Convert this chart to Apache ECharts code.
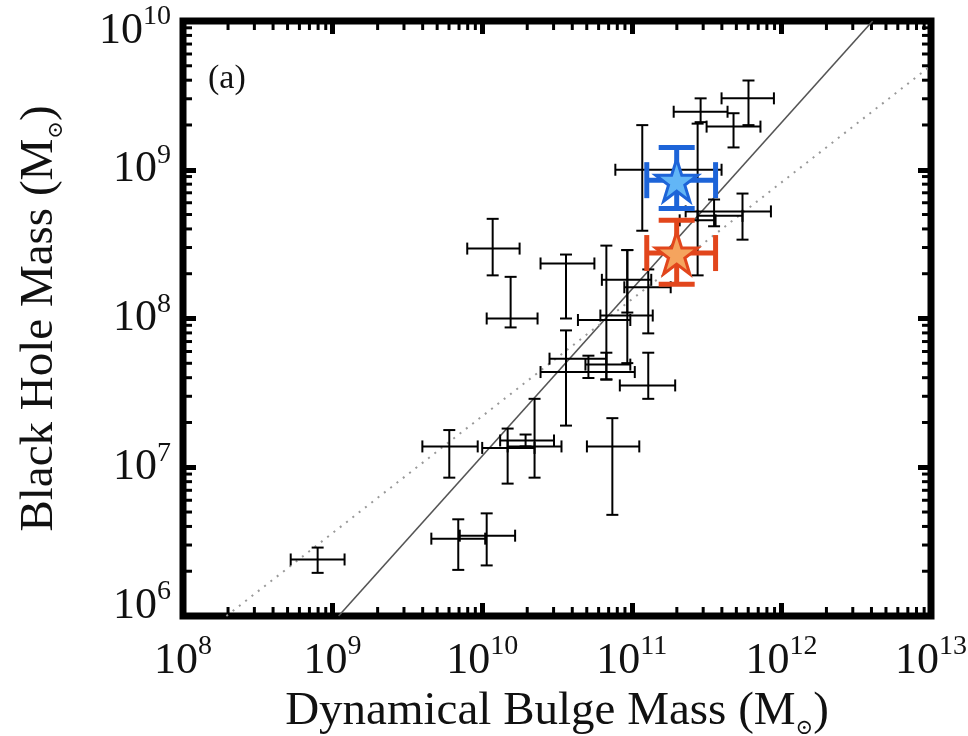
<!DOCTYPE html>
<html>
<head>
<meta charset="utf-8">
<script src="https://cdn.jsdelivr.net/npm/echarts@6/dist/echarts.min.js"></script>
<style>
  html, body { margin: 0; padding: 0; background: #fff; }
  #chart { width: 968px; height: 736px; }
</style>
</head>
<body>
<div id="chart"></div>
<script>
// all values are log10 of the mass in solar masses
const logBulge   = [11.78, 11.46, 11.68, 11.07, 11.74, 11.55, 11.44, 10.07, 10.19, 10.56, 10.83, 10.97, 10.97, 11.11, 10.56, 10.71, 10.83, 11.11,  9.78, 10.17, 10.29, 10.35, 10.87, 10.03,  9.84,  8.90];
const logBulgeLo = [11.60, 11.28, 11.50, 10.89, 11.36, 11.44, 11.32,  9.90, 10.03, 10.39, 10.64, 10.79, 10.80, 10.95, 10.45, 10.39, 10.69, 10.92,  9.60, 10.00, 10.12, 10.17, 10.70,  9.85,  9.66,  8.72];
const logBulgeHi = [11.95, 11.64, 11.86, 11.60, 11.93, 11.74, 11.56, 10.25, 10.37, 10.75, 10.99, 11.14, 11.13, 11.26, 10.83, 11.02, 10.99, 11.29,  9.97, 10.35, 10.48, 10.53, 11.05, 10.22, 10.02,  9.08];
const logBH      = [ 9.48,  9.39,  9.29,  9.00,  8.72,  8.69,  8.66,  8.47,  8.00,  8.37,  7.99,  8.02,  8.26,  8.21,  7.73,  7.64,  7.69,  7.55,  7.14,  7.13,  7.18,  7.14,  7.14,  6.54,  6.52,  6.38];
const logBHLo    = [ 9.30,  9.32,  9.15,  8.59,  8.53,  8.62,  8.29,  8.29,  7.94,  8.00,  7.59,  7.70,  8.04,  7.90,  7.28,  7.60,  7.59,  7.46,  6.93,  6.89,  7.14,  6.93,  6.68,  6.34,  6.31,  6.29];
const logBHHi    = [ 9.60,  9.48,  9.38,  9.30,  8.84,  8.80,  9.31,  8.67,  8.28,  8.43,  8.49,  8.46,  8.46,  8.33,  7.92,  7.75,  7.77,  7.77,  7.25,  7.26,  7.22,  7.46,  7.33,  6.69,  6.65,  6.46];

// the two highlighted objects: [bulge, bulgeLo, bulgeHi, bh, bhLo, bhHi]
const blueStar   = [11.30, 11.10, 11.56, 8.93, 8.74, 9.15];
const orangeStar = [11.30, 11.10, 11.56, 8.44, 8.23, 8.66];

// relation lines, end points [logBulge, logBH]
const solidLine  = [[9.04, 6.0], [12.61, 10.0]];
const dottedLine = [[8.29, 6.0], [13.0, 9.70]];

// axis ranges and minor tick steps
const xRange = [8, 13];
const yRange = [6, 10];
const minorSteps = [2, 3, 4, 5, 6, 7, 8, 9];

const SERIF = 'Liberation Serif, Times New Roman, serif';
const INK = '#111';
const p10 = v => Math.pow(10, v);

function toErrRow(b, bl, bh, m, ml, mh) {
  return [p10(b), p10(m), p10(bl), p10(bh), p10(ml), p10(mh)];
}
const blackRows = logBulge.map((b, i) =>
  toErrRow(b, logBulgeLo[i], logBulgeHi[i], logBH[i], logBHLo[i], logBHHi[i]));

function errorBars(cap, width, color) {
  return function (params, api) {
    const x = api.value(0), y = api.value(1);
    const c = api.coord([x, y]);
    const l = api.coord([api.value(2), y]);
    const r = api.coord([api.value(3), y]);
    const b = api.coord([x, api.value(4)]);
    const t = api.coord([x, api.value(5)]);
    const h = cap / 2;
    const style = { stroke: color, lineWidth: width };
    const seg = (x1, y1, x2, y2) => ({ type: 'line', shape: { x1, y1, x2, y2 }, style });
    return {
      type: 'group',
      children: [
        seg(l[0], c[1], r[0], c[1]),
        seg(c[0], b[1], c[0], t[1]),
        seg(l[0], c[1] - h, l[0], c[1] + h),
        seg(r[0], c[1] - h, r[0], c[1] + h),
        seg(c[0] - h, b[1], c[0] + h, b[1]),
        seg(c[0] - h, t[1], c[0] + h, t[1])
      ]
    };
  };
}

// log-spaced minor ticks on all four sides
const xMinor = [], yMinor = [];
for (let d = xRange[0]; d < xRange[1]; d++) minorSteps.forEach(s => xMinor.push([s * p10(d), p10(yRange[0])]));
for (let d = yRange[0]; d < yRange[1]; d++) minorSteps.forEach(s => yMinor.push([p10(xRange[0]), s * p10(d)]));
const MINOR_LEN = 9;

function xMinorItem(params, api) {
  const cs = params.coordSys;
  const px = api.coord([api.value(0), api.value(1)])[0];
  const style = { stroke: '#000', lineWidth: 3 };
  return { type: 'group', children: [
    { type: 'line', shape: { x1: px, y1: cs.y + cs.height, x2: px, y2: cs.y + cs.height - MINOR_LEN }, style },
    { type: 'line', shape: { x1: px, y1: cs.y, x2: px, y2: cs.y + MINOR_LEN }, style }
  ]};
}
function yMinorItem(params, api) {
  const cs = params.coordSys;
  const py = api.coord([api.value(0), api.value(1)])[1];
  const style = { stroke: '#000', lineWidth: 3 };
  return { type: 'group', children: [
    { type: 'line', shape: { x1: cs.x, y1: py, x2: cs.x + MINOR_LEN, y2: py }, style },
    { type: 'line', shape: { x1: cs.x + cs.width, y1: py, x2: cs.x + cs.width - MINOR_LEN, y2: py }, style }
  ]};
}

const labelRich = {
  b: { fontFamily: SERIF, fontSize: 44, lineHeight: 56, color: INK },
  s: { fontFamily: SERIF, fontSize: 28, lineHeight: 30, color: INK, verticalAlign: 'top' },
  gap: { fontSize: 10, lineHeight: 20 }
};
const expOf = v => Math.round(Math.log10(v));

const titleStyle = {
  fontFamily: SERIF, fontSize: 47, color: INK,
  rich: {
    t: { fontFamily: SERIF, fontSize: 47, lineHeight: 54, color: INK },
    sub: { fontFamily: 'DejaVu Serif, serif', fontSize: 21, lineHeight: 23, color: INK, verticalAlign: 'bottom' }
  }
};

const majorTick = { show: true, inside: true, length: 13, lineStyle: { color: '#000', width: 5 } };

const STAR = 'path://M50,0 L61.8,35.5 L99,35.5 L69,57.5 L80.5,93 L50,71 L19.5,93 L31,57.5 L1,35.5 L38.2,35.5 Z';

const chart = echarts.init(document.getElementById('chart'));
chart.setOption({
  animation: false,
  backgroundColor: '#fff',
  grid: {
    left: 183, right: 37, top: 21, bottom: 120, containLabel: false, outerBoundsMode: 'none',
    show: true, borderColor: '#000', borderWidth: 7
  },
  xAxis: [{
    type: 'log', logBase: 10, min: p10(xRange[0]), max: p10(xRange[1]), position: 'bottom',
    axisLine: { show: false }, splitLine: { show: false }, axisTick: majorTick,
    axisLabel: { margin: 17, showMinLabel: true, showMaxLabel: true,
      formatter: v => '{b|10}{s|' + expOf(v) + '}', rich: labelRich },
    name: '{t|Dynamical Bulge Mass (M}{sub|⊙}{t|)}', nameLocation: 'middle', nameGap: 69,
    nameTextStyle: titleStyle
  }, {
    type: 'log', logBase: 10, min: p10(xRange[0]), max: p10(xRange[1]), position: 'top',
    axisLine: { show: false }, splitLine: { show: false }, axisTick: majorTick, axisLabel: { show: false }
  }],
  yAxis: [{
    type: 'log', logBase: 10, min: p10(yRange[0]), max: p10(yRange[1]), position: 'left',
    axisLine: { show: false }, splitLine: { show: false }, axisTick: majorTick,
    axisLabel: { margin: 12, showMinLabel: true, showMaxLabel: true,
      formatter: v => {
        const e = expOf(v);
        if (e === yRange[1]) return '{gap| }\n{b|10}{s|' + e + '}';
        if (e === yRange[0]) return '{b|10}{s|' + e + '}\n{gap| }';
        return '{b|10}{s|' + e + '}';
      }, rich: labelRich },
    name: '{t|Black Hole Mass (M}{sub|⊙}{t|)}', nameLocation: 'middle', nameGap: 116, nameRotate: 90,
    nameTextStyle: titleStyle
  }, {
    type: 'log', logBase: 10, min: p10(yRange[0]), max: p10(yRange[1]), position: 'right',
    axisLine: { show: false }, splitLine: { show: false }, axisTick: majorTick, axisLabel: { show: false }
  }],
  graphic: [{
    type: 'text', left: 208, top: 62,
    style: { text: '(a)', font: '34px ' + SERIF, fill: INK }
  }],
  series: [
    { type: 'custom', renderItem: xMinorItem, data: xMinor, silent: true, z: 1 },
    { type: 'custom', renderItem: yMinorItem, data: yMinor, silent: true, z: 1 },
    {
      type: 'line', data: solidLine.map(p => [p10(p[0]), p10(p[1])]), symbol: 'none',
      lineStyle: { color: '#555', width: 1.6 }, z: 2
    },
    {
      type: 'line', data: dottedLine.map(p => [p10(p[0]), p10(p[1])]), symbol: 'none',
      lineStyle: { color: '#999', width: 2, type: [2, 6] }, z: 2
    },
    { type: 'custom', renderItem: errorBars(12, 2, '#000'), data: blackRows, z: 3 },
    { type: 'custom', renderItem: errorBars(36, 5, '#1d64d8'), data: [toErrRow(...blueStar)], z: 4 },
    { type: 'custom', renderItem: errorBars(36, 5, '#e2461c'), data: [toErrRow(...orangeStar)], z: 4 },
    {
      type: 'scatter', symbol: STAR, symbolSize: 42, z: 5,
      data: [[p10(blueStar[0]), p10(blueStar[3])]],
      itemStyle: { color: '#62b6f6', borderColor: '#1d64d8', borderWidth: 3, opacity: 1 }
    },
    {
      type: 'scatter', symbol: STAR, symbolSize: 42, z: 5,
      data: [[p10(orangeStar[0]), p10(orangeStar[3])]],
      itemStyle: { color: '#f5a45e', borderColor: '#e2461c', borderWidth: 3, opacity: 1 }
    }
  ]
});
</script>
</body>
</html>
